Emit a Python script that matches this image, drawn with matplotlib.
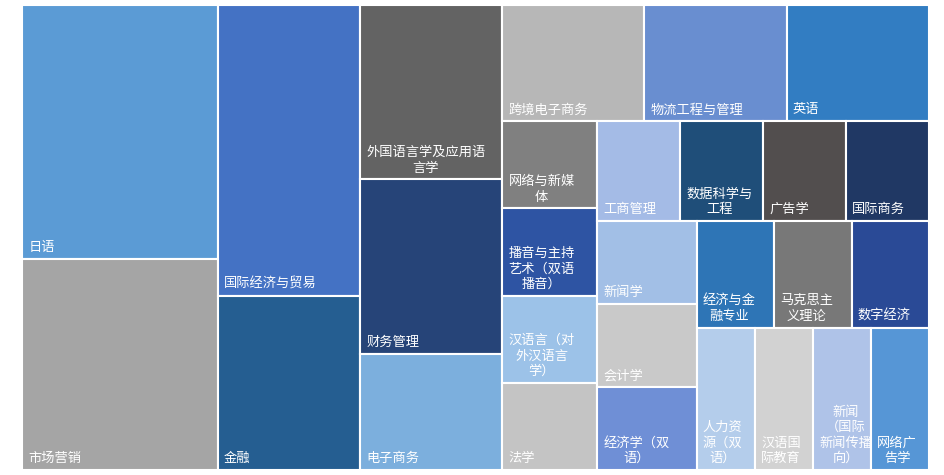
import matplotlib
matplotlib.use("Agg")
import matplotlib.pyplot as plt
from matplotlib.patches import Rectangle

plt.rcParams["font.family"] = ["Noto Sans CJK SC", "DejaVu Sans"]

# Majors and their counts (largest first)
majors = [
    "日语", "市场营销", "国际经济与贸易", "金融",
    "外国语言学及应用语\n言学", "财务管理", "电子商务",
    "跨境电子商务", "物流工程与管理", "英语",
    "网络与新媒\n体", "播音与主持\n艺术（双语\n播音）", "汉语言（对\n外汉语言\n学）", "法学",
    "工商管理", "数据科学与\n工程", "广告学", "国际商务",
    "新闻学", "会计学", "经济学（双\n语）",
    "经济与金\n融专业", "马克思主\n义理论", "数字经济",
    "人力资\n源（双\n语）", "汉语国\n际教育", "新闻\n（国际\n新闻传播\n向）", "网络广\n告学",
]
counts = [6, 5, 5, 3, 3, 3, 2, 2, 2, 2,
          1, 1, 1, 1, 1, 1, 1, 1, 1, 1,
          1, 1, 1, 1, 1, 1, 1, 1]

colors = [
    "#5B9BD5", "#A5A5A5", "#4472C4", "#255E91",
    "#636363", "#264478", "#7CAFDD",
    "#B7B7B7", "#698ED0", "#327DC2",
    "#808080", "#2E54A3", "#9CC2E8", "#C4C4C4",
    "#A4BBE6", "#1F4E79", "#524E4E", "#203864",
    "#A2BFE6", "#C9C9C9", "#6F8FD6",
    "#2E75B6", "#787878", "#2A4A96",
    "#B4CDEB", "#D2D2D2", "#AFC3E8", "#5696D6",
]

# Strip structure of the treemap: (direction, number of items in the strip)
strips = [("col", 2), ("col", 2), ("col", 3), ("row", 3),
          ("col", 4), ("row", 4), ("col", 3), ("row", 3), ("row", 4)]


def strip_layout(values, width, height, strips):
    scale = width * height / sum(values)
    x, y, w, h = 0.0, 0.0, width, height
    rects, i = [], 0
    for direction, n in strips:
        group = values[i:i + n]
        area = sum(group) * scale
        if direction == "col":
            cw = area / h
            yy = y
            for v in group:
                hh = v * scale / cw
                rects.append((x, yy, cw, hh))
                yy += hh
            x += cw
            w -= cw
        else:
            rh = area / w
            xx = x
            for v in group:
                ww = v * scale / rh
                rects.append((xx, y, ww, rh))
                xx += ww
            y += rh
            h -= rh
        i += n
    return rects


fig = plt.figure(figsize=(9.45, 4.75), dpi=100)
ax = fig.add_axes([22 / 945, 5 / 475, 907 / 945, 465 / 475])
bbox = ax.get_window_extent()
W, H = bbox.width, bbox.height
ax.set_xlim(0, W)
ax.set_ylim(H, 0)
ax.axis("off")

for (x, y, w, h), label, col in zip(strip_layout(counts, W, H, strips), majors, colors):
    ax.add_patch(Rectangle((x, y), w, h, facecolor=col, edgecolor="white", linewidth=1.5))
    ax.annotate(label, xy=(x, y + h), xytext=(4.5, 3.5), textcoords="offset points",
                ha="left", va="bottom", multialignment="center",
                color="white", fontsize=9.5, linespacing=1.25)

fig.savefig("out.png", dpi=100, facecolor="white")
